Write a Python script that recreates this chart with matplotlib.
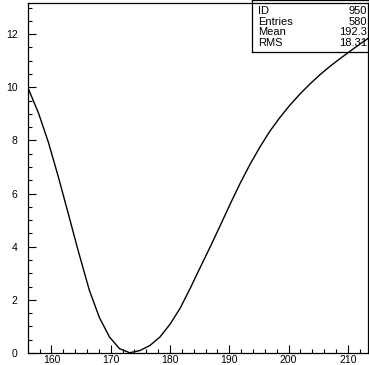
import matplotlib
matplotlib.use("Agg")
import matplotlib.pyplot as plt
from matplotlib.ticker import MultipleLocator

# curve
xs = [156.0, 157.8, 159.5, 161.2, 162.8, 164.5, 166.4, 168.1, 169.8, 171.5,
      173.2, 174.9, 176.6, 178.3, 180.0, 181.7, 183.4, 185.1, 186.8, 188.4,
      190.1, 191.8, 193.5, 195.2, 196.8, 198.5, 200.2, 201.9, 203.6, 205.3,
      207.0, 208.7, 210.4, 212.0, 213.5]
ys = [10.0, 9.04, 7.92, 6.6, 5.28, 3.86, 2.36, 1.33, 0.6, 0.16,
      0.01, 0.09, 0.28, 0.6, 1.08, 1.68, 2.43, 3.22, 4.0, 4.76,
      5.58, 6.37, 7.1, 7.76, 8.33, 8.85, 9.32, 9.74, 10.12, 10.47,
      10.79, 11.08, 11.36, 11.62, 11.85]

stat_names = ["ID", "Entries", "Mean", "RMS"]
stat_values = ["950", "580", "192.3", "18.31"]

plt.rcParams['font.family'] = ['Liberation Sans', 'DejaVu Sans']

fig = plt.figure(figsize=(3.69, 3.65), dpi=100)
ax = fig.add_axes([28/369, 1 - 353/365, 340/369, 350/365])

ax.plot(xs, ys, color='black', lw=1.0)
ax.set_xlim(156.05, 213.4)
ax.set_ylim(0, 13.17)

ax.xaxis.set_major_locator(MultipleLocator(10))
ax.xaxis.set_minor_locator(MultipleLocator(2))
ax.yaxis.set_major_locator(MultipleLocator(2))
ax.yaxis.set_minor_locator(MultipleLocator(0.5))
ax.tick_params(which='both', direction='in', top=False, right=False,
               labelsize=7.5, width=0.8, colors='black')
ax.tick_params(which='major', length=6)
ax.tick_params(which='minor', length=3)
ax.tick_params(axis='x', which='major', pad=1.5)
ax.tick_params(axis='y', which='major', pad=7.5)
for s in ax.spines.values():
    s.set_linewidth(0.9)

# statistics box, see-through so the curve shows inside it
bx = fig.add_axes([252/369, 1 - 52/365, 117/369, 52/365])
bx.patch.set_alpha(0)
bx.set_xlim(0, 1)
bx.set_ylim(0, 1)
bx.set_xticks([])
bx.set_yticks([])
for s in bx.spines.values():
    s.set_linewidth(0.9)
for i, (n, v) in enumerate(zip(stat_names, stat_values)):
    yy = 1 - (11 + i * 10.7) / 52
    bx.text(0.05, yy, n, fontsize=8, va='center', ha='left')
    bx.text(0.985, yy, v, fontsize=8, va='center', ha='right')

fig.savefig("out.png", dpi=100)
